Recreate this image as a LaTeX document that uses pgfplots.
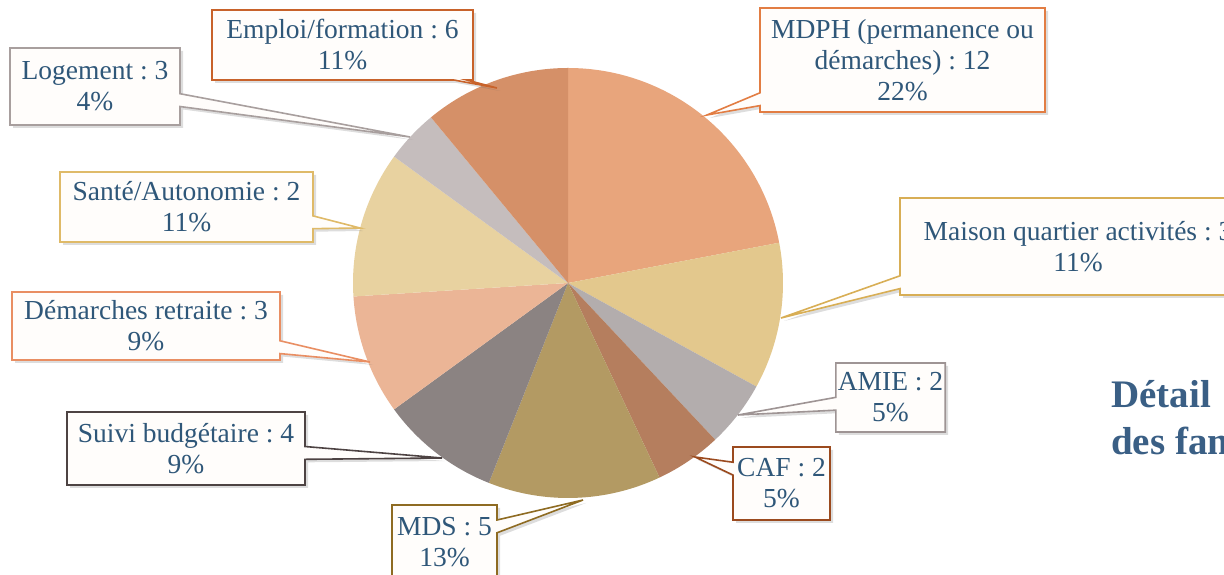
\documentclass[border=0pt]{standalone}
\usepackage{pgfplots}
\pgfplotsset{compat=1.18}
\usepackage{fontspec}
\setmainfont{Liberation Serif}
\frenchspacing
\usetikzlibrary{shapes.callouts,shadows}
\definecolor{txt}{HTML}{2F5779}
\definecolor{ttl}{HTML}{3A5F85}
\definecolor{sMDPH}{HTML}{E8A57C}
\definecolor{sMais}{HTML}{E3C88D}
\definecolor{sAMIE}{HTML}{B3ADAD}
\definecolor{sCAF}{HTML}{B57E5E}
\definecolor{sMDS}{HTML}{B39A63}
\definecolor{sSuiv}{HTML}{8B8382}
\definecolor{sRetr}{HTML}{EBB596}
\definecolor{sSant}{HTML}{E8D2A0}
\definecolor{sLoge}{HTML}{C5BDBD}
\definecolor{sEmpl}{HTML}{D59068}
\definecolor{bMDPH}{HTML}{E27D43}
\definecolor{bMais}{HTML}{D8AE55}
\definecolor{bAMIE}{HTML}{9E9494}
\definecolor{bCAF}{HTML}{9B4A1E}
\definecolor{bMDS}{HTML}{8E6B22}
\definecolor{bSuiv}{HTML}{4D4343}
\definecolor{bRetr}{HTML}{E98E62}
\definecolor{bSant}{HTML}{DFBA68}
\definecolor{bLoge}{HTML}{A89F9E}
\definecolor{bEmpl}{HTML}{C8622A}
\tikzset{
  lab/.style={rectangle callout, align=center, text=txt, line width=1.6pt,
    fill=white!96!orange!40!white, inner sep=2pt,
    font=\fontsize{27.5}{31}\selectfont,
    drop shadow={shadow xshift=3pt, shadow yshift=-3pt, opacity=0.22, fill=black!60},
    callout pointer width=0.45cm}
}
\begin{document}
\begin{tikzpicture}
\begin{axis}[name=ax, width=1224pt, height=575pt, scale only axis,
  xmin=0, xmax=1224, ymin=0, ymax=575, hide axis, clip=true]
% pie: centre (568,292), radius 215; slices from percentages
% 22,11,5,5,13,9,9,11,4,11 % -> angles
\fill[sMDPH] (axis cs:568,292) -- ++(90:215pt) arc[start angle=90, end angle=10.8, radius=215pt] -- cycle;
\fill[sMais] (axis cs:568,292) -- ++(10.8:215pt) arc[start angle=10.8, end angle=-28.8, radius=215pt] -- cycle;
\fill[sAMIE] (axis cs:568,292) -- ++(-28.8:215pt) arc[start angle=-28.8, end angle=-46.8, radius=215pt] -- cycle;
\fill[sCAF] (axis cs:568,292) -- ++(-46.8:215pt) arc[start angle=-46.8, end angle=-64.8, radius=215pt] -- cycle;
\fill[sMDS] (axis cs:568,292) -- ++(-64.8:215pt) arc[start angle=-64.8, end angle=-111.6, radius=215pt] -- cycle;
\fill[sSuiv] (axis cs:568,292) -- ++(-111.6:215pt) arc[start angle=-111.6, end angle=-144, radius=215pt] -- cycle;
\fill[sRetr] (axis cs:568,292) -- ++(-144:215pt) arc[start angle=-144, end angle=-176.4, radius=215pt] -- cycle;
\fill[sSant] (axis cs:568,292) -- ++(-176.4:215pt) arc[start angle=-176.4, end angle=-216, radius=215pt] -- cycle;
\fill[sLoge] (axis cs:568,292) -- ++(-216:215pt) arc[start angle=-216, end angle=-230.4, radius=215pt] -- cycle;
\fill[sEmpl] (axis cs:568,292) -- ++(-230.4:215pt) arc[start angle=-230.4, end angle=-270, radius=215pt] -- cycle;
% labels
\node[lab, draw=bEmpl, minimum width=261pt, minimum height=70pt, callout absolute pointer={(axis cs:497,487)}] at (axis cs:342.5,530) {Emploi/formation : 6\\11\%};
\node[lab, draw=bLoge, minimum width=170pt, minimum height=77pt, callout absolute pointer={(axis cs:410,438)}] at (axis cs:95,488.5) {Logement : 3\\4\%};
\node[lab, draw=bMDPH, minimum width=285pt, minimum height=104pt, callout absolute pointer={(axis cs:707,460)}] at (axis cs:902.5,515) {MDPH (permanence ou\\démarches) : 12\\22\%};
\node[lab, draw=bMais, minimum width=356pt, minimum height=97pt, callout absolute pointer={(axis cs:781,257)}] at (axis cs:1078,328.5) {Maison quartier activités : 3\\11\%};
\node[lab, draw=bAMIE, minimum width=109pt, minimum height=69pt, callout absolute pointer={(axis cs:738,160)}] at (axis cs:890.5,177.5) {AMIE : 2\\5\%};
\node[lab, draw=bCAF, minimum width=97pt, minimum height=73pt, callout absolute pointer={(axis cs:695,118)}] at (axis cs:781.5,91.5) {CAF : 2\\5\%};
\node[lab, draw=bMDS, minimum width=105pt, minimum height=75pt, callout absolute pointer={(axis cs:583,75)}] at (axis cs:444.5,32.5) {MDS : 5\\13\%};
\node[lab, draw=bSuiv, minimum width=238pt, minimum height=73pt, callout absolute pointer={(axis cs:442,117)}] at (axis cs:186,126.5) {Suivi budgétaire : 4\\9\%};
\node[lab, draw=bRetr, minimum width=268pt, minimum height=68pt, callout absolute pointer={(axis cs:370,213)}] at (axis cs:146,249) {Démarches retraite : 3\\9\%};
\node[lab, draw=bSant, minimum width=253pt, minimum height=70pt, callout absolute pointer={(axis cs:360,347)}] at (axis cs:186.5,368) {Santé/Autonomie : 2\\11\%};
% title (cut at the right edge in the reference)
\node[anchor=base west, text=ttl, inner sep=0pt,
  font=\bfseries\fontsize{39}{47}\selectfont] at (axis cs:1111,167) {Détail};
\node[anchor=base west, text=ttl, inner sep=0pt,
  font=\bfseries\fontsize{39}{47}\selectfont] at (axis cs:1111,120) {des familles};
\end{axis}
\pgfresetboundingbox
\path[use as bounding box] (ax.south west) rectangle (ax.north east);
\end{tikzpicture}
\end{document}
